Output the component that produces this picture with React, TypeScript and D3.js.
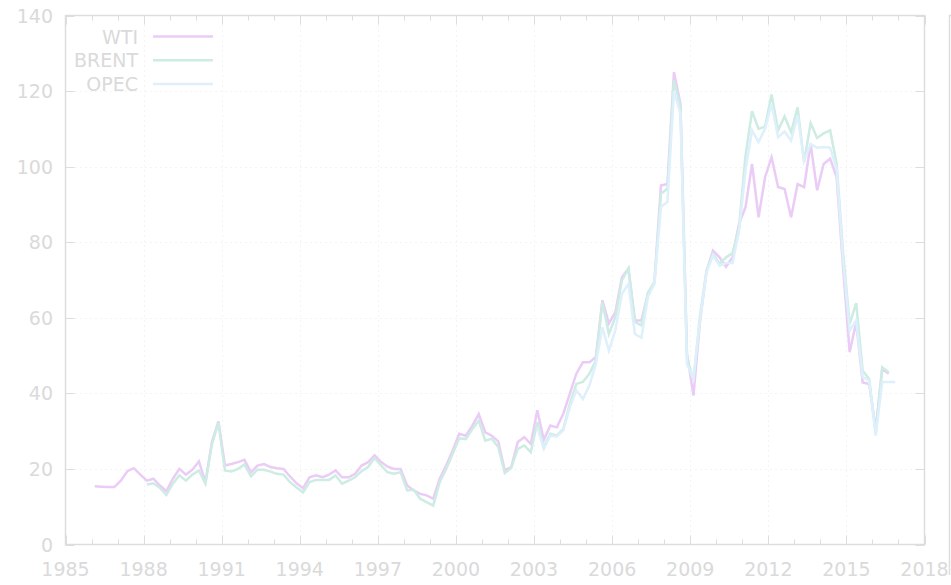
import React from "react";
import * as d3 from "d3";

// Quarterly averages (x at mid-quarter)
const WTI_START = 1986;
const wti = [
  15.4, 15.3, 15.2, 15.2,
  16.9, 19.4, 20.2, 18.5,
  16.9, 17.4, 15.6, 14.1,
  17.4, 20.0, 18.5, 19.8,
  22.0, 16.5, 27.1, 32.6,
  20.9, 21.3, 21.8, 22.4,
  19.1, 20.9, 21.3, 20.5,
  20.2, 20.0, 18.0, 16.2,
  14.9, 17.8, 18.3, 17.8,
  18.5, 19.6, 17.8, 17.8,
  18.7, 20.9, 21.8, 23.6,
  21.8, 20.6, 20.0, 20.0,
  15.6, 14.3, 13.4, 13.0,
  12.1, 17.4, 20.9, 24.9,
  29.3, 28.8, 31.4, 34.5,
  29.7, 28.8, 27.3, 19.6,
  20.5, 27.1, 28.4, 26.6,
  35.5, 27.7, 31.5, 31.0,
  34.6, 39.9, 45.2, 48.2,
  48.2, 49.6, 64.6, 58.5,
  61.5, 70.7, 73.0, 59.3,
  59.3, 66.3, 69.4, 95.0,
  95.4, 125.0, 116.6, 50.5,
  39.4, 59.0, 72.3, 77.8,
  76.0, 73.5, 76.0, 84.9,
  89.3, 100.7, 86.6, 97.2,
  102.5, 94.6, 94.1, 86.6,
  95.4, 94.6, 106.0, 93.7,
  100.7, 102.1, 97.2, 73.0,
  50.9, 58.8, 42.9, 42.5,
  30.5, 46.5, 45.2,
];

const BRENT_START = 1988;
const brent = [
  15.9, 16.2, 15.0, 13.1,
  16.1, 18.3, 16.9, 18.5,
  19.6, 16.1, 26.5, 32.2,
  19.6, 19.3, 20.0, 21.2,
  18.0, 19.8, 19.8, 19.3,
  18.7, 18.5, 16.5, 15.1,
  13.8, 16.5, 17.1, 17.1,
  17.1, 18.3, 16.1, 16.9,
  17.8, 19.4, 20.5, 22.9,
  20.9, 19.1, 18.7, 19.1,
  14.3, 14.5, 12.1, 11.2,
  10.3, 16.5, 20.0, 24.0,
  28.1, 27.9, 30.5, 32.8,
  27.5, 28.0, 25.8, 18.9,
  20.3, 25.3, 26.2, 24.4,
  32.4, 25.8, 29.3, 28.8,
  30.6, 37.2, 42.5, 43.0,
  45.2, 48.7, 64.1, 55.7,
  60.2, 69.9, 73.1, 58.9,
  58.0, 66.7, 69.4, 92.8,
  94.2, 122.9, 115.8, 49.5,
  43.4, 60.5, 72.5, 76.9,
  74.3, 76.0, 77.1, 84.0,
  103.0, 114.7, 110.0, 110.6,
  119.1, 109.6, 113.3, 109.1,
  115.7, 101.2, 111.5, 107.6,
  108.8, 109.6, 100.7, 77.0,
  58.4, 63.9, 46.0, 43.8,
  29.3, 46.9, 45.6,
];

const OPEC_START = 2003;
const opec = [
  31.0, 25.3, 28.8, 28.6,
  30.2, 36.3, 40.8, 38.5,
  42.1, 47.8, 57.5, 51.3,
  56.7, 66.3, 69.0, 55.7,
  54.7, 65.5, 69.0, 89.3,
  90.7, 120.0, 114.0, 47.8,
  43.8, 59.5, 72.0, 76.5,
  73.8, 74.5, 74.5, 83.0,
  99.0, 109.6, 106.5, 110.0,
  116.6, 107.8, 109.3, 106.9,
  113.5, 101.6, 106.0, 105.0,
  105.2, 105.0, 99.5, 75.0,
  56.6, 59.3, 44.3, 43.4,
  28.8, 43.0, 43.0, 43.0,
];

const seriesNames = ["WTI", "BRENT", "OPEC"];
const seriesColors = ["#eaccf6", "#cdece3", "#ddf0fb"];
const xTickYears = [1985, 1988, 1991, 1994, 1997, 2000, 2003, 2006, 2009, 2012, 2015, 2018];
const yTickValues = [0, 20, 40, 60, 80, 100, 120, 140];

const W = 951;
const H = 585;
const L = 65.5;
const R = 924.5;
const T = 15.5;
const B = 544.5;
const TEXT = "#dadada";
const FRAME = "#dddddd";
const FONT = "DejaVu Sans, sans-serif";
const FS = 19;

function toPoints(start: number, vals: number[]) {
  return vals.map((v, i) => ({ t: start + (i + 0.5) / 4, v }));
}

export default function App() {
  const x = d3.scaleLinear().domain([1985, 2018]).range([L, R]);
  const y = d3.scaleLinear().domain([0, 140]).range([B, T]);
  const line = d3
    .line<{ t: number; v: number }>()
    .x((d) => x(d.t))
    .y((d) => y(d.v));

  const series = [
    toPoints(WTI_START, wti),
    toPoints(BRENT_START, brent),
    toPoints(OPEC_START, opec),
  ];

  const minorYears = d3.range(1986, 2018).filter((yr) => !xTickYears.includes(yr));

  return (
    <svg
      width={W}
      height={H}
      style={{ position: "absolute", left: 0, top: 0, background: "#fff" }}
      fontFamily={FONT}
    >
      {/* grid */}
      <g stroke="#e9e9e9" strokeWidth={1} strokeDasharray="1,4">
        {xTickYears.slice(1, -1).map((yr) => (
          <line key={"gx" + yr} x1={Math.round(x(yr)) + 0.5} x2={Math.round(x(yr)) + 0.5} y1={T} y2={B} />
        ))}
        {yTickValues.slice(1, -1).map((v) => (
          <line key={"gy" + v} x1={L} x2={R} y1={Math.round(y(v)) + 0.5} y2={Math.round(y(v)) + 0.5} />
        ))}
      </g>
      {/* ticks */}
      <g stroke={FRAME} strokeWidth={1}>
        {xTickYears.map((yr) => {
          const px = Math.round(x(yr)) + 0.5;
          return (
            <g key={"tx" + yr}>
              <line x1={px} x2={px} y1={B} y2={B - 9} />
              <line x1={px} x2={px} y1={T} y2={T + 9} />
            </g>
          );
        })}
        {minorYears.map((yr) => {
          const px = Math.round(x(yr)) + 0.5;
          return (
            <g key={"mx" + yr}>
              <line x1={px} x2={px} y1={B} y2={B - 5} />
              <line x1={px} x2={px} y1={T} y2={T + 5} />
            </g>
          );
        })}
        {yTickValues.map((v) => {
          const py = Math.round(y(v)) + 0.5;
          return (
            <g key={"ty" + v}>
              <line x1={L} x2={L + 9} y1={py} y2={py} />
              <line x1={R} x2={R - 9} y1={py} y2={py} />
            </g>
          );
        })}
      </g>
      {/* series */}
      {series.map((pts, i) => (
        <path
          key={seriesNames[i]}
          d={line(pts) || ""}
          fill="none"
          stroke={seriesColors[i]}
          strokeWidth={2.5}
          strokeLinejoin="miter"
        />
      ))}
      {/* frame */}
      <rect x={L} y={T} width={R - L} height={B - T} fill="none" stroke={FRAME} strokeWidth={1.5} />
      <path d={`M${W - 1.5},${H - 10} V${T} H${W}`} fill="none" stroke={FRAME} strokeWidth={1.5} />
      {/* tick labels */}
      <g fill={TEXT} fontSize={FS}>
        {xTickYears.map((yr) => (
          <text key={"lx" + yr} x={x(yr)} y={576} textAnchor="middle">
            {yr}
          </text>
        ))}
        {yTickValues.map((v) => (
          <text key={"ly" + v} x={53} y={y(v) + 7} textAnchor="end">
            {v}
          </text>
        ))}
      </g>
      {/* legend */}
      <g fontSize={FS}>
        {seriesNames.map((n, i) => {
          const ly = 36.5 + i * 23.7;
          return (
            <g key={"lg" + n}>
              <text x={138} y={ly + 7} textAnchor="end" fill={TEXT}>
                {n}
              </text>
              <line x1={153} x2={213} y1={ly} y2={ly} stroke={seriesColors[i]} strokeWidth={2.5} />
            </g>
          );
        })}
      </g>
    </svg>
  );
}
